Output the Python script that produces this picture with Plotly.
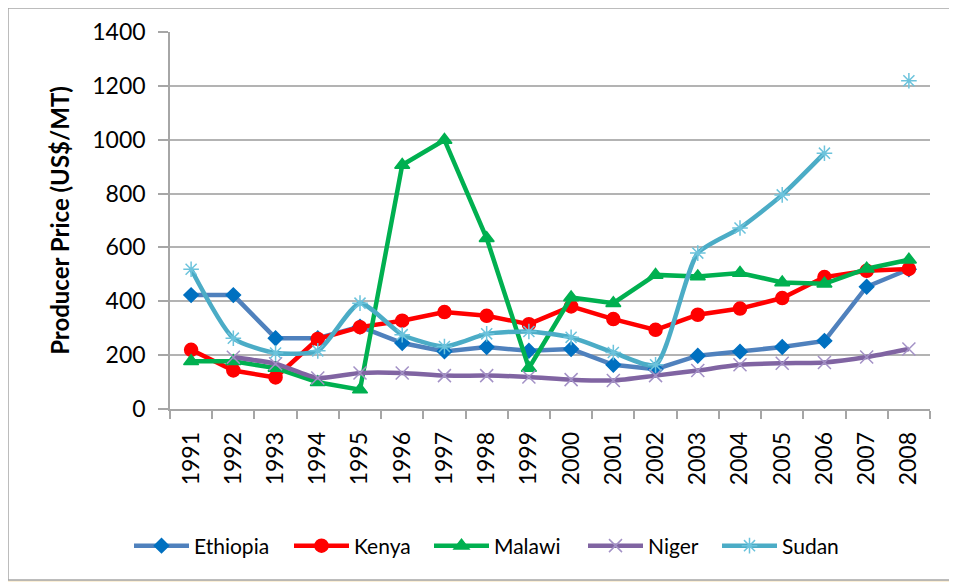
import plotly.graph_objects as go

years = [str(y) for y in range(1991, 2009)]

ethiopia = [423, 423, 263, 263, 306, 245, 214, 230, 216, 223, 164, 148, 198, 213, 230, 253, 454, 519]
kenya = [220, 143, 117, 260, 304, 328, 360, 346, 315, 381, 334, 294, 350, 373, 412, 490, 513, 520]
malawi = [177, 177, 152, 99, 72, 906, 999, 634, 152, 414, 393, 498, 492, 505, 470, 465, 521, 554]
niger = [None, 192, 168, 115, 134, 134, 124, 124, 119, 109, 106, 124, 143, 164, 170, 173, 193, 223]
sudan = [519, 263, 208, 216, 393, 276, 232, 279, 288, 266, 210, 164, 579, 672, 795, 950, None, 1219]

y_ticks = [0, 200, 400, 600, 800, 1000, 1200, 1400]

series = [
    ("Ethiopia", ethiopia, "#4f81bd", "diamond", 11, "#0070c0", "linear"),
    ("Kenya", kenya, "#ff0000", "circle", 13, "#ff0000", "linear"),
    ("Malawi", malawi, "#00b050", "triangle-up", 13, "#00b050", "linear"),
    ("Niger", niger, "#8064a2", "x-thin-open", 13, "#a391c6", "spline"),
    ("Sudan", sudan, "#4bacc6", "asterisk-open", 13, "#6cc3dc", "spline"),
]

# page body has an 8px margin; compensate so the plot lands where the reference has it
OFF = 8
W, H = 957 - OFF, 582 - OFF
L, R, T, B = 170 - OFF, 930 - OFF, 32 - OFF, 409 - OFF
pw, ph = R - L, B - T

def px_x(p):
    return (p - OFF - L) / pw

def px_y(p):
    return (B - (p - OFF)) / ph

legend_starts = [137, 297, 437, 591, 725]
legend_names = ["legend", "legend2", "legend3", "legend4", "legend5"]

fig = go.Figure()
for (name, vals, lc, sym, size, mc, shape), lg in zip(series, legend_names):
    fig.add_trace(go.Scatter(
        x=years, y=vals, name=name, mode="lines+markers",
        connectgaps=False, legend=lg,
        line=dict(color=lc, width=4.5, shape=shape, smoothing=0.6),
        marker=dict(symbol=sym, size=size, color=mc, line=dict(color=mc, width=1.5)),
    ))

fig.add_shape(type="rect", xref="paper", yref="paper",
              x0=px_x(8), x1=px_x(970), y0=px_y(580), y1=px_y(8),
              fillcolor="white", line=dict(color="#a6a6a6", width=1.5), layer="below")

legends = {}
for lg, xs in zip(legend_names, legend_starts):
    legends[lg] = dict(orientation="h", x=px_x(xs - 8), y=px_y(546), xanchor="left", yanchor="middle",
                       font=dict(size=21, family="Lato, sans-serif"), itemwidth=55,
                       bgcolor="rgba(0,0,0,0)")

fig.update_layout(
    width=W, height=H,
    margin=dict(l=L, r=W - R, t=T, b=H - B, autoexpand=False),
    paper_bgcolor="#fbefd7",
    plot_bgcolor="white",
    font=dict(family="Lato, Open Sans, sans-serif", color="#000000"),
    showlegend=True,
    xaxis=dict(
        type="category", showgrid=False, showline=True, linecolor="#a6a6a6", linewidth=1.5,
        ticks="outside", tickson="boundaries", ticklen=8, tickcolor="#a6a6a6", tickwidth=1.5,
        tickangle=-90, tickfont=dict(size=23, family="Lato, sans-serif"), ticklabelstandoff=12,
        range=[-0.5, 17.5],
    ),
    yaxis=dict(
        range=[0, 1400], tickvals=y_ticks, showgrid=True, gridcolor="#b3b3b3", gridwidth=1.5,
        showline=True, linecolor="#a6a6a6", linewidth=1.5, zeroline=False,
        ticks="outside", ticklen=10, tickcolor="#a6a6a6", tickwidth=1.5,
        tickfont=dict(size=23, family="Lato, sans-serif"), ticklabelstandoff=8,
        title=dict(text="<b>Producer Price (US$/MT)</b>", font=dict(size=24, family="Lato, sans-serif"), standoff=16),
    ),
    **legends,
)

fig.write_html("out.html")
